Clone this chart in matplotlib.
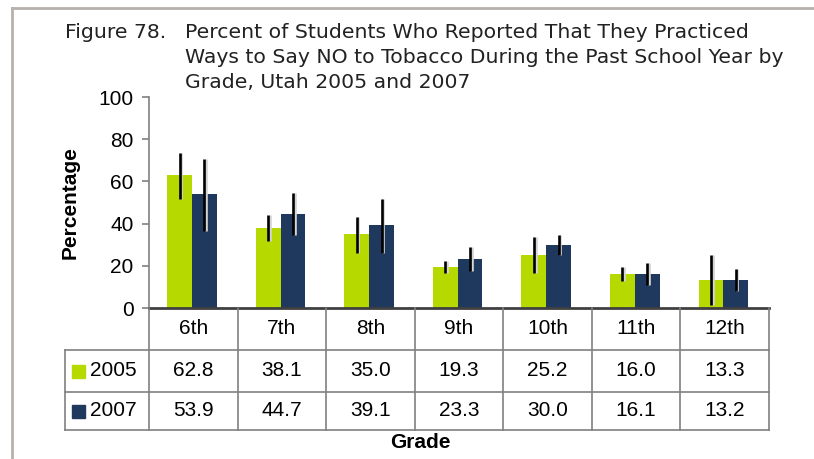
import matplotlib.pyplot as plt
import matplotlib.patheffects as pe
import matplotlib.transforms as mtransforms
from matplotlib.lines import Line2D
from matplotlib.patches import Rectangle
import numpy as np

# Survey results by grade
grades = ['6th', '7th', '8th', '9th', '10th', '11th', '12th']
years = ['2005', '2007']
pct_2005 = [62.8, 38.1, 35.0, 19.3, 25.2, 16.0, 13.3]
pct_2007 = [53.9, 44.7, 39.1, 23.3, 30.0, 16.1, 13.2]
# 95% confidence limits
low_2005 = [51.6, 31.9, 26.0, 16.6, 16.6, 12.7, 1.4]
high_2005 = [73.4, 43.9, 43.0, 22.2, 33.6, 19.3, 25.0]
low_2007 = [36.7, 34.5, 26.0, 17.6, 25.0, 10.9, 8.1]
high_2007 = [70.4, 54.4, 51.6, 28.8, 34.5, 21.2, 18.4]

green = '#b6d900'
navy = '#1f385d'
grid_gray = '#808080'

W, H = 814, 459


def fx(px):
    return px / W


def fy(py):
    return 1 - py / H


plt.rcParams['font.family'] = 'Liberation Sans'

fig = plt.figure(figsize=(W / 100, H / 100), dpi=100)
ax = fig.add_axes([fx(149), fy(308), fx(769) - fx(149), fy(97) - fy(308)])

x = np.arange(len(grades))
bw = 0.28
x05 = x - 0.155
x07 = x + 0.125
ax.bar(x05, pct_2005, width=bw, color=green, zorder=2)
ax.bar(x07, pct_2007, width=bw, color=navy, zorder=2)

shadow = [pe.SimpleLineShadow(offset=(1.2, 0), shadow_color='#d4d4d4', alpha=1), pe.Normal()]
for xs, v, lo, hi in [(x05, pct_2005, low_2005, high_2005), (x07, pct_2007, low_2007, high_2007)]:
    v = np.array(v)
    err = [v - np.array(lo), np.array(hi) - v]
    eb = ax.errorbar(xs, v, yerr=err, fmt='none', ecolor='black', elinewidth=1.9, capsize=0, zorder=3)
    for coll in eb[2]:
        coll.set_path_effects(shadow)

ax.set_xlim(-0.5, len(grades) - 0.5)
ax.set_ylim(0, 100)
ax.set_yticks(range(0, 101, 20))
ax.tick_params(axis='y', direction='out', length=5, width=1.2, color=grid_gray, labelsize=15, pad=6)
ax.set_xticks([])
for s in ['top', 'right']:
    ax.spines[s].set_visible(False)
ax.spines['left'].set_color(grid_gray)
ax.spines['left'].set_linewidth(1.2)
ax.spines['bottom'].set_color('#404040')
ax.spines['bottom'].set_linewidth(2)
ax.spines['bottom'].set_zorder(4)

ax.set_ylabel('Percentage', fontsize=15, fontweight='bold', labelpad=14)

# Data table under the axis
trans = mtransforms.blended_transform_factory(ax.transData, fig.transFigure)
row_top = [308, 350, 392]
row_bot = [350, 392, 430]
for b in x[:-1] + 0.5:
    fig.add_artist(Line2D([b, b], [fy(308), fy(430)], transform=trans, color=grid_gray, lw=1.2))
fig.add_artist(Line2D([fx(149), fx(149)], [fy(308), fy(430)], color=grid_gray, lw=1.2))
fig.add_artist(Line2D([fx(769), fx(769)], [fy(308), fy(430)], color=grid_gray, lw=1.2))
fig.add_artist(Line2D([fx(65), fx(65)], [fy(350), fy(430)], color=grid_gray, lw=1.2))
for yy in [350, 392, 430]:
    fig.add_artist(Line2D([fx(65), fx(769)], [fy(yy), fy(yy)], color=grid_gray, lw=1.2))

for i, g in enumerate(grades):
    fig.text(i, fy(329), g, transform=trans, ha='center', va='center', fontsize=15)
for r, (vals, col, yr) in enumerate([(pct_2005, green, years[0]), (pct_2007, navy, years[1])]):
    yc = (row_top[r + 1] + row_bot[r + 1]) / 2
    for i, v in enumerate(vals):
        fig.text(i, fy(yc), f'{v:.1f}', transform=trans, ha='center', va='center', fontsize=15)
    fig.add_artist(Rectangle((fx(72), fy(yc + 7)), fx(13), 13 / H, color=col))
    fig.text(fx(90), fy(yc), yr, ha='left', va='center', fontsize=15)

fig.text(fx(420), fy(443), 'Grade', ha='center', va='center', fontsize=15, fontweight='bold')

# Title
title_kw = dict(fontsize=14.7, color='#222222', family='DejaVu Sans', va='baseline')
fig.text(fx(65), fy(38), 'Figure 78.', **title_kw)
fig.text(fx(185), fy(38), 'Percent of Students Who Reported That They Practiced', **title_kw)
fig.text(fx(185), fy(63), 'Ways to Say NO to Tobacco During the Past School Year by', **title_kw)
fig.text(fx(185), fy(88), 'Grade, Utah 2005 and 2007', **title_kw)

# Page frame
fig.add_artist(Line2D([fx(12), fx(814)], [fy(8), fy(8)], color='#b8b0ac', lw=2))
fig.add_artist(Line2D([fx(12), fx(12)], [fy(8), fy(459)], color='#b8b0ac', lw=2))

fig.savefig('out.png', dpi=100)
